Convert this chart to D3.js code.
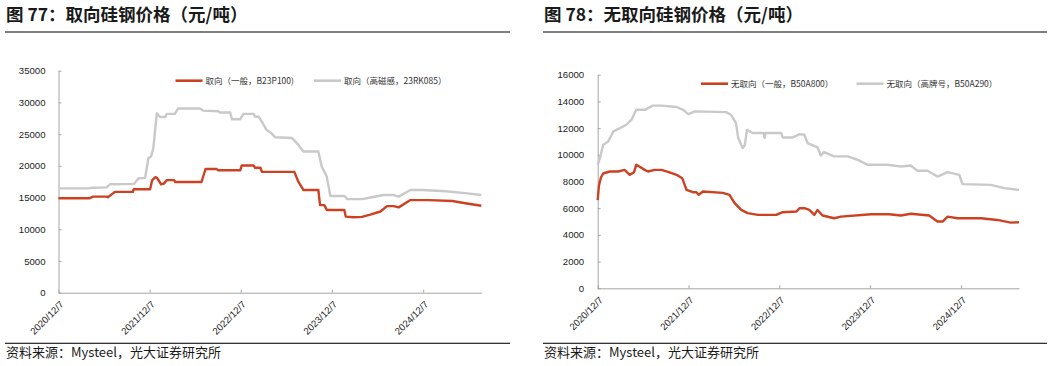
<!DOCTYPE html>
<html>
<head>
<meta charset="utf-8">
<script src="https://cdn.jsdelivr.net/npm/d3@7"></script>
<style>
  html, body { margin: 0; padding: 0; background: #fff; }
  svg { display: block; }
</style>
</head>
<body>
<svg id="chart" width="1054" height="366"></svg>
<script>
// ---------- DATA ----------
const xTickLabels = ["2020/12/7", "2021/12/7", "2022/12/7", "2023/12/7", "2024/12/7"];
const xDomain = ["2020-12-07", "2025-07-28"];

// 图77 取向硅钢
const leftTitle = "图 77：取向硅钢价格（元/吨）";
const leftYTicks = [0, 5000, 10000, 15000, 20000, 25000, 30000, 35000];
const leftSeriesNames = ["取向（一般，B23P100)", "取向（高磁感，23RK085）"];

const goGenDates = ["2020-12-07","2021-04-11","2021-04-25","2021-06-18","2021-06-23","2021-07-08","2021-07-21","2021-10-01","2021-10-04","2021-12-09","2021-12-17","2021-12-29","2022-01-06","2022-01-22","2022-02-02","2022-02-14","2022-03-15","2022-03-20","2022-07-03","2022-07-19","2022-09-02","2022-09-07","2022-12-05","2022-12-11","2023-01-28","2023-02-02","2023-02-24","2023-03-02","2023-07-10","2023-07-26","2023-08-15","2023-10-14","2023-10-21","2023-11-07","2023-11-17","2024-01-26","2024-02-01","2024-03-02","2024-04-06","2024-05-09","2024-06-19","2024-07-15","2024-08-11","2024-08-31","2024-10-17","2024-12-30","2025-04-03","2025-05-25","2025-07-28"];
const goGenValues = [14900,14900,15150,15150,15050,15500,15900,15900,16300,16300,17700,18200,18100,17100,17200,17750,17750,17450,17450,19500,19500,19300,19300,20050,20050,19700,19700,19050,19050,17500,16200,16200,13800,13800,13050,13050,12000,11900,11950,12300,12800,13650,13650,13450,14600,14600,14450,14100,13700];

const goHiDates = ["2020-12-07","2021-04-11","2021-04-19","2021-06-18","2021-07-01","2021-10-05","2021-10-23","2021-11-19","2021-12-02","2021-12-13","2021-12-22","2022-01-05","2022-01-18","2022-02-08","2022-02-14","2022-03-18","2022-03-31","2022-06-27","2022-07-10","2022-09-09","2022-09-15","2022-10-26","2022-11-02","2022-12-05","2022-12-18","2023-01-28","2023-02-03","2023-02-17","2023-03-07","2023-03-20","2023-04-07","2023-04-25","2023-06-30","2023-07-26","2023-08-15","2023-10-14","2023-10-28","2023-11-17","2023-12-01","2024-01-27","2024-02-07","2024-04-06","2024-05-16","2024-07-01","2024-08-11","2024-08-31","2024-10-17","2024-12-03","2025-03-06","2025-05-25","2025-07-28"];
const goHiValues = [16450,16450,16550,16600,17100,17150,18000,18100,21200,21500,22800,28300,27700,27700,28200,28200,29050,29050,28700,28600,28400,28400,27350,27350,28200,28200,27750,27750,26600,25700,25200,24500,24400,23300,22250,22250,19870,18300,15250,15250,14750,14750,15050,15400,15400,15150,16200,16200,16000,15700,15400];

// 图78 无取向硅钢
const rightTitle = "图 78：无取向硅钢价格（元/吨）";
const rightYTicks = [0, 2000, 4000, 6000, 8000, 10000, 12000, 14000, 16000];
const rightSeriesNames = ["无取向（一般，B50A800）", "无取向（高牌号，B50A290）"];

const noGenDates = ["2020-12-07","2020-12-12","2020-12-20","2020-12-29","2021-01-25","2021-02-28","2021-03-25","2021-04-15","2021-05-02","2021-05-11","2021-05-25","2021-06-14","2021-06-27","2021-07-24","2021-08-20","2021-09-16","2021-10-20","2021-11-12","2021-11-29","2021-12-25","2022-01-08","2022-01-17","2022-02-03","2022-04-24","2022-05-21","2022-06-10","2022-07-07","2022-08-02","2022-09-12","2022-11-25","2022-12-21","2023-02-14","2023-02-27","2023-03-18","2023-04-07","2023-04-27","2023-05-10","2023-05-30","2023-07-16","2023-08-12","2023-12-11","2024-02-22","2024-04-09","2024-05-19","2024-08-01","2024-09-03","2024-09-24","2024-10-14","2024-11-23","2025-02-25","2025-05-02","2025-06-25","2025-07-28"];
const noGenValues = [6600,7700,8300,8600,8750,8750,8870,8500,8700,9250,9100,8870,8750,8870,8870,8720,8500,8250,7370,7200,7200,7000,7250,7150,7000,6400,5870,5630,5500,5500,5700,5750,6000,6000,5880,5500,5870,5450,5250,5370,5550,5550,5450,5580,5450,5000,5000,5370,5250,5250,5120,4920,4950];

const noHiDates = ["2020-12-07","2020-12-16","2020-12-29","2021-01-18","2021-02-08","2021-03-07","2021-04-01","2021-04-22","2021-05-11","2021-06-14","2021-07-17","2021-08-20","2021-10-20","2021-11-16","2021-12-06","2022-01-02","2022-05-07","2022-05-27","2022-06-16","2022-06-25","2022-07-13","2022-07-22","2022-07-30","2022-08-22","2022-10-05","2022-10-09","2022-10-13","2022-12-15","2022-12-21","2023-01-31","2023-02-27","2023-03-18","2023-03-31","2023-05-10","2023-05-23","2023-06-05","2023-07-16","2023-09-08","2023-10-18","2023-11-28","2024-02-15","2024-04-09","2024-05-19","2024-06-15","2024-07-25","2024-09-03","2024-10-14","2024-11-30","2024-12-13","2025-04-06","2025-05-29","2025-07-28"];
const noHiValues = [9250,9750,10750,11000,11750,12000,12250,12630,13370,13370,13680,13680,13580,13370,13050,13250,13200,13000,12380,11250,10500,10750,11870,11630,11630,11250,11630,11630,11300,11300,11550,11500,10880,10550,9950,10200,9880,9880,9630,9250,9250,9120,9200,8800,8800,8370,8700,8500,7800,7750,7500,7370];

const sourceText = "资料来源：Mysteel，光大证券研究所";

// ---------- STYLE ----------
const RED = "#CC4122";
const GRAY = "#C9C9C9";
const AXIS = "#A6A6A6";
const NUMFONT = "'Liberation Sans', Arial, sans-serif";
const CJKFONT = "'Noto Sans CJK SC', 'Liberation Sans', sans-serif";

const parseISO = d3.timeParse("%Y-%m-%d");
const parseTick = d3.timeParse("%Y/%m/%d");
const svg = d3.select("#chart");

function drawPanel(p) {
  const g = svg.append("g");

  // header
  g.append("text").attr("x", p.left).attr("y", 21)
    .attr("font-family", CJKFONT).attr("font-size", 17.5).attr("font-weight", "bold")
    .attr("fill", "#1a1a1a").text(p.title);
  g.append("rect").attr("x", p.left - 1).attr("y", 31).attr("width", p.ruleW).attr("height", 2)
    .attr("fill", "#7f7f7f");

  // footer
  g.append("rect").attr("x", p.left - 1).attr("y", 342.7).attr("width", p.ruleW).attr("height", 1.3)
    .attr("fill", "#333");
  g.append("text").attr("x", p.left).attr("y", 357)
    .attr("font-family", CJKFONT).attr("font-size", 13)
    .attr("fill", "#1a1a1a").text(sourceText);

  const x = d3.scaleTime().domain(xDomain.map(parseISO)).range([p.x0, p.x1]);
  const y = d3.scaleLinear().domain([0, p.yTicks[p.yTicks.length - 1]]).range([p.y0, p.y1]);

  // y axis
  const ya = g.append("g").attr("transform", `translate(${p.x0},0)`)
    .call(d3.axisLeft(y).tickValues(p.yTicks).tickSizeInner(-3).tickSizeOuter(0).tickPadding(p.ypad).tickFormat(d3.format("d")));
  ya.select(".domain").attr("stroke", AXIS);
  ya.selectAll(".tick line").attr("stroke", AXIS);
  ya.selectAll(".tick text").attr("font-family", NUMFONT).attr("font-size", 9.6).attr("fill", "#222");

  // x axis
  const tickDates = xTickLabels.map(parseTick);
  const xa = g.append("g").attr("transform", `translate(0,${p.y0})`)
    .call(d3.axisBottom(x).tickValues(tickDates).tickSizeInner(-3).tickSizeOuter(0).tickFormat(""));
  xa.select(".domain").attr("stroke", AXIS);
  xa.selectAll(".tick line").attr("stroke", AXIS);
  xa.selectAll(".tick").append("text")
    .attr("transform", "translate(3,10) rotate(-45)")
    .attr("text-anchor", "end").attr("dy", "0.35em")
    .attr("font-family", NUMFONT).attr("font-size", 9.6).attr("fill", "#222")
    .text((d, i) => xTickLabels[i]);

  // lines
  const line = d3.line().x(d => x(d[0])).y(d => y(d[1]));
  p.series.forEach(s => {
    s.pts = s.dates.map((d, i) => [parseISO(d), s.values[i]]);
  });
  [p.series[1], p.series[0]].forEach(s => {
    g.append("path").datum(s.pts).attr("d", line)
      .attr("fill", "none").attr("stroke", s.color).attr("stroke-width", 2.4)
      .attr("stroke-linejoin", "round");
  });

  // legend
  p.series.forEach((s, i) => {
    const lx = p.legX[i], ly = p.legY;
    g.append("line").attr("x1", lx).attr("x2", lx + 27).attr("y1", ly).attr("y2", ly)
      .attr("stroke", s.color).attr("stroke-width", 2.6);
    g.append("text").attr("x", lx + 30).attr("y", ly).attr("dy", "0.35em")
      .attr("font-family", CJKFONT).attr("font-size", 8.5).attr("fill", "#333")
      .text(s.name);
  });
}

drawPanel({
  left: 6, ruleW: 505, title: leftTitle,
  x0: 58.5, x1: 481.3, y0: 292.7, y1: 70.7, ypad: 13, yTicks: leftYTicks,
  legX: [175.5, 314], legY: 80.7,
  series: [
    { name: leftSeriesNames[0], dates: goGenDates, values: goGenValues, color: RED },
    { name: leftSeriesNames[1], dates: goHiDates, values: goHiValues, color: GRAY }
  ]
});

drawPanel({
  left: 544, ruleW: 504, title: rightTitle,
  x0: 597.7, x1: 1019, y0: 288.3, y1: 74.7, ypad: 13.5, yTicks: rightYTicks,
  legX: [701, 856.5], legY: 83.7,
  series: [
    { name: rightSeriesNames[0], dates: noGenDates, values: noGenValues, color: RED },
    { name: rightSeriesNames[1], dates: noHiDates, values: noHiValues, color: GRAY }
  ]
});
</script>
</body>
</html>
